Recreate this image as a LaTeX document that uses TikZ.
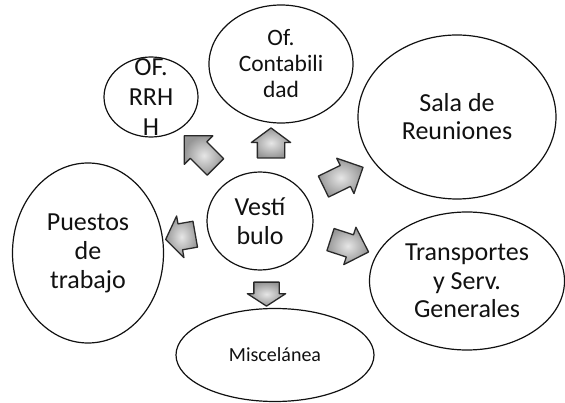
\documentclass[tikz,border=0pt]{standalone}
\usepackage{fontspec}
\setmainfont{Carlito}
\usetikzlibrary{shapes.geometric, shapes.arrows}
\definecolor{cLine}{HTML}{111111}
\definecolor{cArrIn}{HTML}{E6E6E6}
\definecolor{cArrOut}{HTML}{969696}
\tikzset{
    room/.style    ={ellipse, draw=cLine, line width=1.2pt, inner sep=0pt},
    roomtxt/.style ={align=center, inner sep=0pt, text=cLine,
                     font=\fontsize{26}{29}\selectfont},
    flow/.style    ={single arrow, draw=cLine!90, line width=1.3pt,
                     line join=round, inner xsep=0pt,
                     text height=0pt, text depth=0pt,
                     shade, inner color=cArrIn, outer color=cArrOut},
}

\begin{document}
\begin{tikzpicture}[x=1pt, y=-1pt]
\useasboundingbox (0,0) rectangle (565,403);

% ===================== Salas =====================
\node[room, minimum width=106pt, minimum height=98pt]  (vest) at (260,221) {};
\node[room, minimum width=94pt,  minimum height=80pt]  (rrhh) at (151,97)  {};
\node[room, minimum width=144pt, minimum height=118pt] (cont) at (281,64)  {};
\node[room, minimum width=198pt, minimum height=164pt] (sala) at (457,117) {};
\node[room, minimum width=151pt, minimum height=180pt] (pues) at (88,253)  {};
\node[room, minimum width=195pt, minimum height=138pt] (tran) at (467,281) {};
\node[room, minimum width=198pt, minimum height=93pt]  (misc) at (275,355) {};

% ===================== Textos =====================
\node[roomtxt] (vest-t) at (vest) {Vestí\\bulo};
\node[roomtxt, font=\fontsize{26}{30}\selectfont] (rrhh-t) at (rrhh) {OF.\\RRH\\H};
\node[roomtxt, font=\fontsize{23.5}{26}\selectfont] (cont-t) at (cont) {Of.\\Contabili\\dad};
\node[roomtxt, font=\fontsize{26}{28}\selectfont] (sala-t) at (sala) {Sala de\\Reuniones};
\node[roomtxt] (pues-t) at (pues) {Puestos\\de\\trabajo};
\node[roomtxt, font=\fontsize{26}{28.5}\selectfont] (tran-t) at (tran) {Transportes\\y Serv.\\Generales};
\node[roomtxt, font=\fontsize{20}{24}\selectfont] (misc-t) at (misc) {Miscelánea};

% ===================== Flechas desde el vestíbulo =====================
\node[flow, rotate=135, minimum height=44pt, inner ysep=11pt,
      single arrow head extend=8.5pt] (to-rrhh) at (204,155.5) {};
\node[flow, rotate=90, minimum height=30pt, inner ysep=13pt,
      single arrow head extend=6pt, single arrow tip angle=107] (to-cont) at (271,148) {};
\node[flow, rotate=26, minimum height=44pt, inner ysep=11pt,
      single arrow head extend=8pt] (to-sala) at (338,179.5) {};
\node[flow, rotate=-18, minimum height=40pt, inner ysep=11pt,
      single arrow head extend=8pt] (to-tran) at (344,244) {};
\node[flow, rotate=-90, minimum height=24pt, inner ysep=12pt,
      single arrow head extend=6.5pt, single arrow tip angle=114] (to-misc) at (266.5,290) {};
\node[flow, rotate=-170, minimum height=30pt, inner ysep=12.5pt,
      single arrow head extend=8pt, single arrow tip angle=110] (to-pues) at (185,236) {};

\end{tikzpicture}
\end{document}
